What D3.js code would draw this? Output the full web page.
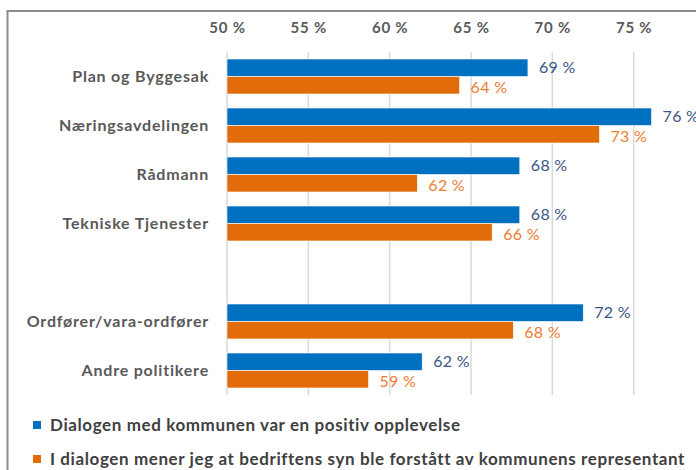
<!DOCTYPE html>
<html><head>
<meta charset="utf-8">
<script src="https://d3js.org/d3.v7.min.js"></script>
<style>
  body { margin:0; background:#fff; }
  text { font-family: Lato, "Open Sans", sans-serif; }
</style>
</head>
<body>
<svg width="696" height="470"></svg>
<script>
// data (share of respondents)
var categories = ["Plan og Byggesak", "Næringsavdelingen", "Rådmann", "Tekniske Tjenester", "", "Ordfører/vara-ordfører", "Andre politikere"];
var positive   = [0.685, 0.761, 0.680, 0.680, null, 0.719, 0.620];
var understood = [0.643, 0.729, 0.617, 0.663, null, 0.676, 0.587];
var tickValues = [0.50, 0.55, 0.60, 0.65, 0.70, 0.75];
var seriesNames = ["Dialogen med kommunen var en positiv opplevelse",
                   "I dialogen mener jeg at bedriftens syn ble forstått av kommunens representant"];
var seriesColors = ["#0070C0", "#E36C0A"];
var labelColors = ["#3A5586", "#ED7D31"];

const svg = d3.select("svg");

// frame (cut off at right and bottom, like the screenshot)
svg.append("rect")
  .attr("x", 7.5).attr("y", 11)
  .attr("width", 800).attr("height", 600)
  .attr("fill", "none")
  .attr("stroke", "#8c8c8c")
  .attr("stroke-width", 2);

var x = d3.scaleLinear().domain([0.5, 0.8]).range([227, 715]);
var y = d3.scaleBand().domain(categories).range([52, 395])
          .paddingInner(0.286).paddingOuter(0.143);
var sub = d3.scaleBand().domain([0, 1]).range([0, y.bandwidth()]);

// gridlines
svg.append("g").selectAll("line")
  .data(tickValues)
  .enter().append("line")
  .attr("x1", d => x(d)).attr("x2", d => x(d))
  .attr("y1", 52).attr("y2", 395)
  .attr("stroke", "#d9d9d9")
  .attr("stroke-width", 1.5);

// top axis labels
var xAxis = d3.axisTop(x).tickValues(tickValues).tickSize(0).tickPadding(0)
  .tickFormat(d => Math.round(d * 100) + " %");
var gx = svg.append("g").attr("transform", "translate(0,33)").call(xAxis);
gx.select(".domain").remove();
gx.selectAll("text")
  .attr("dy", 0)
  .style("font-family", "Lato, sans-serif")
  .style("font-size", "15px")
  .style("font-weight", "bold")
  .style("letter-spacing", "0.8px")
  .style("fill", "#595959");

// category labels
svg.append("g").selectAll("text")
  .data(categories)
  .enter().append("text")
  .attr("x", 209)
  .attr("y", d => y(d) + y.bandwidth() / 2)
  .attr("dy", "0.35em")
  .attr("text-anchor", "end")
  .style("font-size", "16px")
  .style("font-weight", "bold")
  .style("letter-spacing", "0.8px")
  .style("fill", "#595959")
  .text(d => d);

var series = [positive, understood];
series.forEach(function(vals, s) {
  var rows = categories.map((c, i) => ({cat: c, v: vals[i]})).filter(d => d.v != null);
  svg.append("g").selectAll("rect")
    .data(rows)
    .enter().append("rect")
    .attr("x", x(0.5))
    .attr("y", d => y(d.cat) + sub(s))
    .attr("width", d => x(d.v) - x(0.5))
    .attr("height", sub.bandwidth())
    .attr("fill", seriesColors[s])
    .attr("stroke", "#ffffff")
    .attr("stroke-width", 0.6);

  svg.append("g").selectAll("text")
    .data(rows)
    .enter().append("text")
    .attr("x", d => x(d.v) + 11)
    .attr("y", d => y(d.cat) + sub(s) + sub.bandwidth() / 2 + (s === 1 ? 2 : 0))
    .attr("dy", "0.35em")
    .style("font-size", "16px")
    .style("letter-spacing", "0.3px")
    .style("fill", labelColors[s])
    .text(d => Math.round(d.v * 100) + " %");
});

// legend
var leg = svg.append("g").selectAll("g")
  .data(seriesNames)
  .enter().append("g")
  .attr("transform", (d, i) => "translate(33," + (425 + i * 34) + ")");
leg.append("rect")
  .attr("x", 0).attr("y", -4)
  .attr("width", 8).attr("height", 8)
  .attr("fill", (d, i) => seriesColors[i]);
leg.append("text")
  .attr("x", 17).attr("y", 0)
  .attr("dy", "0.35em")
  .style("font-size", "17px")
  .style("font-weight", "bold")
  .style("letter-spacing", "0.6px")
  .style("fill", "#404040")
  .text(d => d);
</script>
</body></html>
